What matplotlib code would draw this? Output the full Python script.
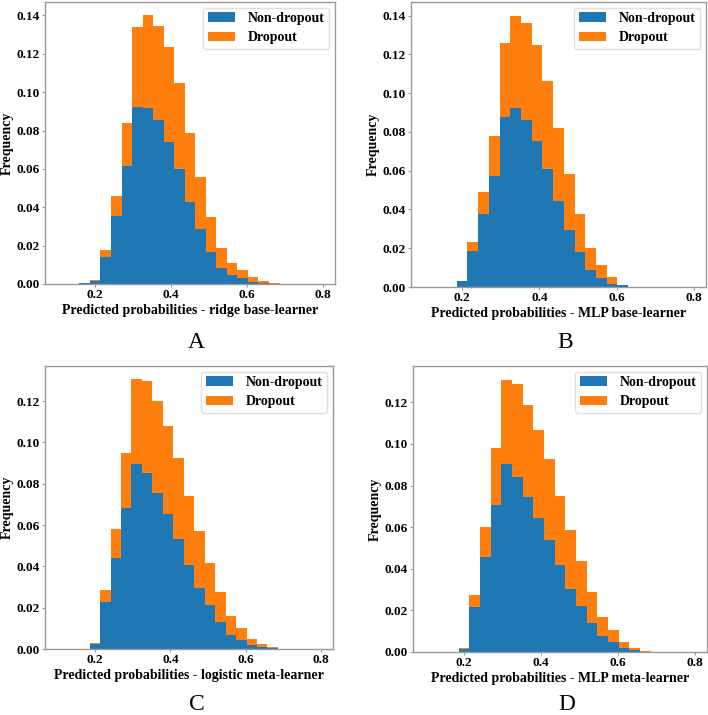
import numpy as np
import matplotlib
matplotlib.use("Agg")
import matplotlib.pyplot as plt

plt.rcParams['font.family'] = ['Liberation Serif', 'DejaVu Serif']

# histogram bin range (25 bins)
bin_lo, bin_hi, n_bins = 0.103, 0.796, 25

series_labels = ["Non-dropout", "Dropout"]
colors = ["#1f77b4", "#ff7f0e"]

# Panel A - ridge base-learner
a_nondrop = [0, 0, 0.0003, 0.0017, 0.0143, 0.0354, 0.0613, 0.0923, 0.0920, 0.0854,
             0.0742, 0.0599, 0.0430, 0.0285, 0.0166, 0.0086, 0.0047, 0.0031, 0.0012,
             0.0005, 0.0002, 0.0, 0, 0, 0]
a_drop = [0, 0, 0.0, 0.0005, 0.0035, 0.0107, 0.0226, 0.0415, 0.0480, 0.0492,
          0.0492, 0.0449, 0.0359, 0.0272, 0.0181, 0.0100, 0.0062, 0.0043, 0.0026,
          0.0012, 0.0003, 0.0002, 0, 0, 0]

# Panel B - MLP base-learner
b_nondrop = [0, 0, 0.0002, 0.0029, 0.0186, 0.0376, 0.0572, 0.0879, 0.0922, 0.0862,
             0.0753, 0.0608, 0.0444, 0.0295, 0.0183, 0.0089, 0.0046, 0.0017, 0.0009,
             0.0002, 0, 0, 0, 0, 0]
b_drop = [0, 0, 0.0, 0.0003, 0.0048, 0.0116, 0.0208, 0.0382, 0.0478, 0.0498,
          0.0493, 0.0454, 0.0377, 0.0287, 0.0191, 0.0111, 0.0065, 0.0033, 0.0003,
          0.0, 0, 0, 0, 0, 0]

# Panel C - logistic meta-learner
c_nondrop = [0, 0, 0, 0.0024, 0.0227, 0.0440, 0.0684, 0.0898, 0.0852, 0.0756,
             0.0653, 0.0535, 0.0408, 0.0297, 0.0211, 0.0132, 0.0069, 0.0045, 0.0018,
             0.0008, 0.0003, 0.0, 0, 0, 0]
c_drop = [0, 0, 0, 0.0003, 0.0057, 0.0139, 0.0264, 0.0407, 0.0448, 0.0446,
          0.0426, 0.0391, 0.0332, 0.0272, 0.0204, 0.0142, 0.0089, 0.0057, 0.0030,
          0.0016, 0.0007, 0.0001, 0, 0, 0]

# Panel D - MLP meta-learner
d_nondrop = [0, 0, 0, 0.0014, 0.0214, 0.0456, 0.0706, 0.0902, 0.0842, 0.0747,
             0.0642, 0.0536, 0.0416, 0.0302, 0.0221, 0.0139, 0.0077, 0.0048, 0.0021,
             0.0010, 0.0, 0, 0, 0, 0]
d_drop = [0, 0, 0, 0.0004, 0.0058, 0.0146, 0.0272, 0.0407, 0.0446, 0.0439,
          0.0424, 0.0390, 0.0336, 0.0282, 0.0216, 0.0147, 0.0091, 0.0056, 0.0027,
          0.0011, 0.0003, 0, 0, 0, 0]

xlabels = ["Predicted probabilities - ridge base-learner",
           "Predicted probabilities - MLP base-learner",
           "Predicted probabilities - logistic meta-learner",
           "Predicted probabilities - MLP meta-learner"]
panel_letters = ["A", "B", "C", "D"]
xticks = [0.2, 0.4, 0.6, 0.8]

edges = np.linspace(bin_lo, bin_hi, n_bins + 1)
centers = (edges[:-1] + edges[1:]) / 2

fig = plt.figure(figsize=(7.08, 7.15), dpi=100)
W, H = 708, 715
boxes = [(45, 2, 290, 282), (411, 2, 295, 285), (45, 366, 288, 283), (413, 366, 294, 286)]
letter_pos = [(196, 342), (565, 342), (197, 705), (567, 705)]
data = [(a_nondrop, a_drop), (b_nondrop, b_drop), (c_nondrop, c_drop), (d_nondrop, d_drop)]
spine_col = '#9a9a9a'

for i, (box, (nd, dr)) in enumerate(zip(boxes, data)):
    x0, y0, w, h = box
    ax = fig.add_axes([x0 / W, 1 - (y0 + h) / H, w / W, h / H])
    ax.hist([centers, centers], bins=edges, weights=[nd, dr], stacked=True,
            histtype='bar', rwidth=1.0, color=colors, label=series_labels)
    ax.set_xlim(0.068, 0.831)
    ax.set_xticks(xticks)
    ax.set_xticklabels([f"{t:.1f}" for t in xticks])
    ax.tick_params(labelsize=9.5, length=2, width=0.8, pad=1.8, color=spine_col)
    for lab in ax.get_xticklabels() + ax.get_yticklabels():
        lab.set_fontweight('bold')
    ax.yaxis.set_major_formatter(matplotlib.ticker.FormatStrFormatter('%.2f'))
    ax.set_xlabel(xlabels[i], fontsize=10, fontweight='bold', labelpad=2)
    ax.set_ylabel("Frequency", fontsize=10, fontweight='bold', labelpad=2)
    for sp in ax.spines.values():
        sp.set_color(spine_col)
        sp.set_linewidth(1.0)
    leg = ax.legend(loc='upper right', prop={'weight': 'bold', 'size': 10},
                    handlelength=1.95, handleheight=0.7, borderpad=0.33,
                    labelspacing=0.44, handletextpad=0.93, borderaxespad=0.4)
    leg.get_frame().set_edgecolor('#d8d8d8')
    lx, ly = letter_pos[i]
    fig.text(lx / W, 1 - ly / H, panel_letters[i], fontsize=17,
             ha='center', va='center')

fig.savefig("out.png", dpi=100)
